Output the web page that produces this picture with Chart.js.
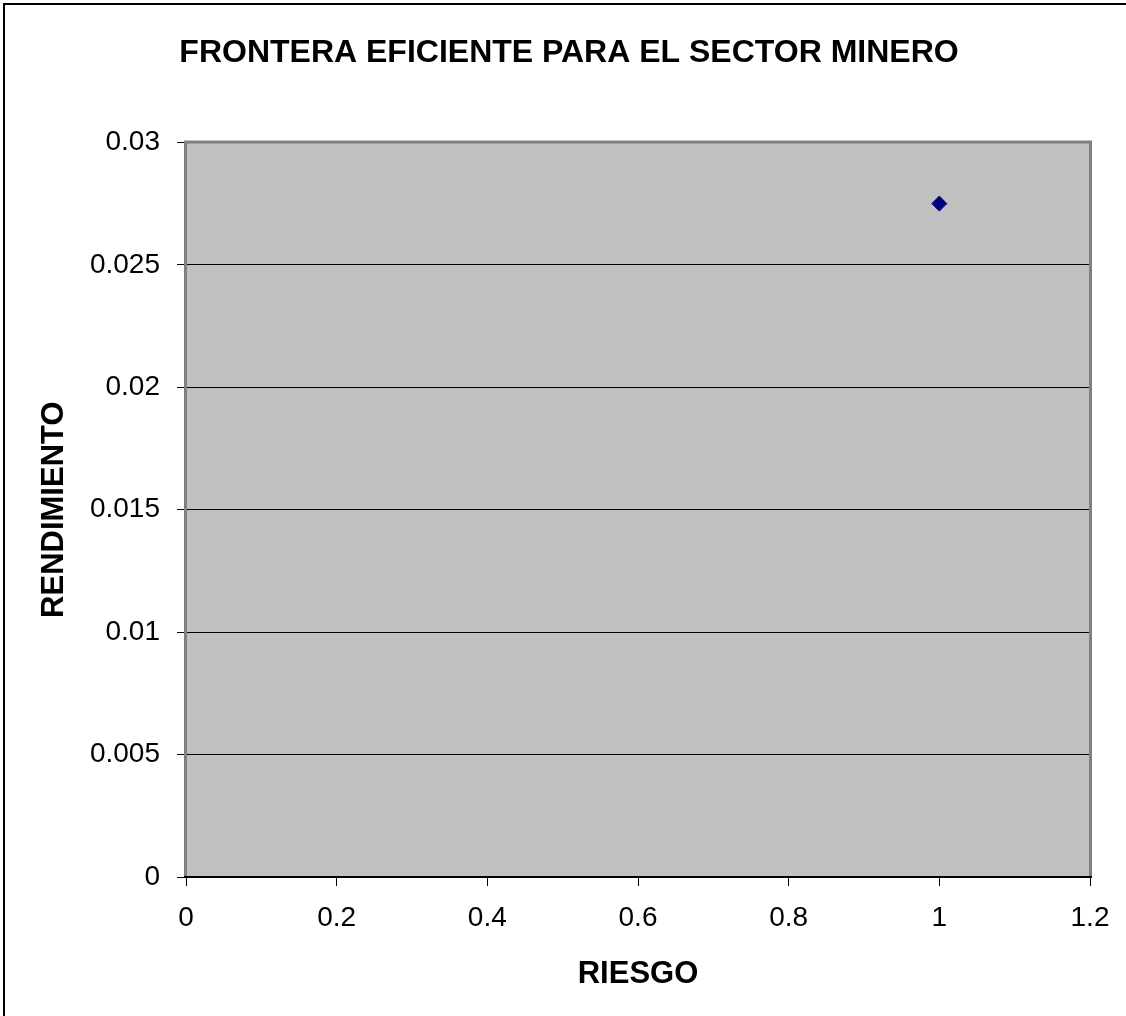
<!DOCTYPE html>
<html>
<head>
<meta charset="utf-8">
<title>Frontera eficiente</title>
<script src="https://cdn.jsdelivr.net/npm/chart.js@4/dist/chart.umd.min.js"></script>
<style>
  html, body { margin: 0; padding: 0; background: #ffffff; }
  #wrap { width: 1126px; height: 1016px; position: relative; }
  canvas { display: block; }
</style>
</head>
<body>
<div id="wrap"><canvas id="chart" width="1126" height="1016"></canvas></div>
<script>
// Portfolio: risk (x) vs return (y)
const riesgo = [1.0];
const rendimiento = [0.0275];

const xTicks = [0, 0.2, 0.4, 0.6, 0.8, 1, 1.2];
const yTicks = [0, 0.005, 0.01, 0.015, 0.02, 0.025, 0.03];

const FONT = "'Liberation Sans', Arial, Helvetica, sans-serif";

const points = riesgo.map((x, i) => ({ x: x, y: rendimiento[i] }));

// Grey plot area, its grey frame and the outer chart frame
const plotBackground = {
  id: 'plotBackground',
  beforeDraw(chart) {
    const { ctx, chartArea: a } = chart;
    ctx.save();
    ctx.fillStyle = '#c0c0c0';
    ctx.fillRect(a.left, a.top, a.right - a.left, a.bottom - a.top);
    // outer frame (top and left edges)
    ctx.fillStyle = '#000000';
    ctx.fillRect(3, 3, chart.width - 3, 2);
    ctx.fillRect(3, 3, 2, chart.height - 3);
    ctx.restore();
  },
  beforeDatasetsDraw(chart) {
    const { ctx, chartArea: a } = chart;
    ctx.save();
    ctx.strokeStyle = '#808080';
    ctx.lineWidth = 3;
    ctx.beginPath();
    ctx.moveTo(a.left - 0.5, a.bottom);
    ctx.lineTo(a.left - 0.5, a.top - 0.5);
    ctx.lineTo(a.right + 0.5, a.top - 0.5);
    ctx.lineTo(a.right + 0.5, a.bottom);
    ctx.stroke();
    // x axis line
    ctx.strokeStyle = '#000000';
    ctx.lineWidth = 2;
    ctx.beginPath();
    ctx.moveTo(a.left - 2, a.bottom);
    ctx.lineTo(a.right + 2, a.bottom);
    ctx.stroke();
    ctx.restore();
  }
};

new Chart(document.getElementById('chart'), {
  type: 'scatter',
  data: {
    datasets: [{
      label: 'Frontera',
      data: points,
      pointStyle: 'rectRot',
      pointRadius: 7.5,
      pointHoverRadius: 7.5,
      backgroundColor: '#000080',
      borderColor: '#000080',
      borderWidth: 1
    }]
  },
  plugins: [plotBackground],
  options: {
    responsive: false,
    animation: false,
    layout: { padding: { left: 48, right: 36, top: 0, bottom: 0 } },
    plugins: {
      legend: { display: false },
      tooltip: { enabled: false },
      title: {
        display: true,
        text: 'FRONTERA EFICIENTE PARA EL SECTOR MINERO',
        color: '#000000',
        font: { family: FONT, size: 32, weight: 'bold' },
        padding: { top: 34, bottom: 70 }
      }
    },
    scales: {
      x: {
        type: 'linear',
        min: 0,
        max: 1.2,
        afterBuildTicks(scale) { scale.ticks = xTicks.map(v => ({ value: v })); },
        afterFit(scale) { scale.height = 139; },
        ticks: {
          color: '#000000',
          font: { family: FONT, size: 28 },
          padding: 15,
          maxRotation: 0,
          callback: v => String(v)
        },
        grid: {
          drawOnChartArea: false,
          drawTicks: true,
          tickLength: 9,
          color: '#000000',
          lineWidth: 1
        },
        border: { display: false },
        title: {
          display: true,
          text: 'RIESGO',
          color: '#000000',
          font: { family: FONT, size: 31, weight: 'bold' },
          padding: { top: 0, bottom: 23 }
        }
      },
      y: {
        type: 'linear',
        min: 0,
        max: 0.03,
        afterBuildTicks(scale) { scale.ticks = yTicks.map(v => ({ value: v })); },
        afterFit(scale) { scale.width = 138; },
        ticks: {
          color: '#000000',
          font: { family: FONT, size: 28 },
          padding: 17,
          callback: v => String(v)
        },
        grid: {
          drawOnChartArea: true,
          drawTicks: true,
          tickLength: 9,
          color: '#000000',
          lineWidth: 1
        },
        border: { display: false },
        title: {
          display: true,
          text: 'RENDIMIENTO',
          color: '#000000',
          font: { family: FONT, size: 31, weight: 'bold' },
          padding: { top: -12, bottom: 0 }
        }
      }
    }
  }
});
</script>
</body>
</html>
